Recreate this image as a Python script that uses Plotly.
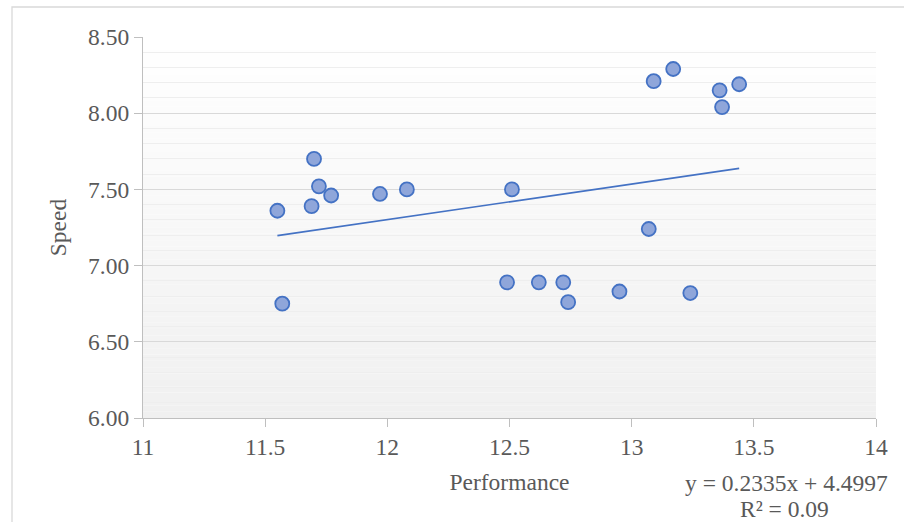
import plotly.graph_objects as go

performance = [11.55, 11.57, 11.70, 11.69, 11.72, 11.77, 11.97, 12.08, 12.51, 12.49, 12.62,
               12.72, 12.74, 12.95, 13.07, 13.24, 13.09, 13.17, 13.36, 13.37, 13.44]
speed = [7.36, 6.75, 7.70, 7.39, 7.52, 7.46, 7.47, 7.50, 7.50, 6.89, 6.89,
         6.89, 6.76, 6.83, 7.24, 6.82, 8.21, 8.29, 8.15, 8.04, 8.19]
slope = 0.2335
intercept = 4.4997
r2 = 0.09
x_ticks = [11, 11.5, 12, 12.5, 13, 13.5, 14]
x_tick_text = ["11", "11.5", "12", "12.5", "13", "13.5", "14"]
y_ticks = [6.0, 6.5, 7.0, 7.5, 8.0, 8.5]
y_tick_text = ["6.00", "6.50", "7.00", "7.50", "8.00", "8.50"]

FONT = "Liberation Serif, Times New Roman, serif"
TXT = "#595959"
FS = 23.5

xmin, xmax = min(performance), max(performance)
trend_x = [xmin, xmax]
trend_y = [slope * v + intercept for v in trend_x]

fig = go.Figure()
fig.add_trace(go.Scatter(
    x=trend_x, y=trend_y, mode="lines",
    line=dict(color="#4472C4", width=1.7), hoverinfo="skip", showlegend=False))
fig.add_trace(go.Scatter(
    x=performance, y=speed, mode="markers",
    marker=dict(size=14, color="#8FA6DA", line=dict(color="#4472C4", width=1.8)),
    showlegend=False))

# vertical gradient background (white top -> light gray bottom)
shapes = []
N = 60
for i in range(N):
    t = i / N
    c = int(round(240 + 15 * (i + 0.5) / N))
    shapes.append(dict(type="rect", xref="x domain", yref="y domain",
                       x0=0, x1=1, y0=t, y1=(i + 1) / N,
                       fillcolor=f"rgb({c},{c},{c})", line=dict(width=0), layer="below"))
# outer chart border
shapes.append(dict(type="rect", xref="paper", yref="paper",
                   x0=(12 - 143) / 733, x1=1.2, y0=-0.4, y1=(418 - 7) / 381,
                   line=dict(color="#D9D9D9", width=1.3), fillcolor="rgba(0,0,0,0)", layer="below"))

fig.update_layout(
    width=904, height=522,
    margin=dict(l=143, r=28, t=37, b=104),
    paper_bgcolor="white", plot_bgcolor="rgba(0,0,0,0)",
    font=dict(family=FONT, size=FS, color=TXT),
    shapes=shapes,
    xaxis=dict(range=[11, 14], tickvals=x_ticks, ticktext=x_tick_text,
               showgrid=False, zeroline=False, showline=True, linecolor="#BFBFBF", linewidth=1.3,
               ticks="outside", ticklen=8, tickcolor="#BFBFBF", tickwidth=1.3,
               tickfont=dict(family=FONT, size=FS, color=TXT),
               title=dict(text="Performance", font=dict(family=FONT, size=FS, color=TXT), standoff=14)),
    yaxis=dict(range=[6, 8.5], tickvals=y_ticks, ticktext=y_tick_text,
               showgrid=True, gridcolor="#D9D9D9", gridwidth=1.3, zeroline=False,
               showline=True, linecolor="#BFBFBF", linewidth=1.3,
               ticks="outside", ticklen=8, tickcolor="#BFBFBF", tickwidth=1.3,
               tickfont=dict(family=FONT, size=FS, color=TXT),
               minor=dict(dtick=0.1, tick0=6, showgrid=True, gridcolor="#EEEEEE", gridwidth=1, ticks=""),
               title=dict(text="Speed", font=dict(family=FONT, size=FS, color=TXT), standoff=14)),
)
fig.add_annotation(xref="paper", yref="paper", x=(890 - 143) / 733, y=(418 - 483) / 381,
                   xanchor="right", yanchor="middle", showarrow=False, align="right",
                   text=f"y = {slope}x + {intercept}", font=dict(family=FONT, size=FS, color=TXT))
fig.add_annotation(xref="paper", yref="paper", x=(784 - 143) / 733, y=(418 - 509) / 381,
                   xanchor="center", yanchor="middle", showarrow=False,
                   text=f"R² = {r2:.2f}", font=dict(family=FONT, size=FS, color=TXT))
fig.write_html("out.html", config={"displayModeBar": False},
               post_script="document.body.style.margin='0';document.body.style.overflow='hidden';")
